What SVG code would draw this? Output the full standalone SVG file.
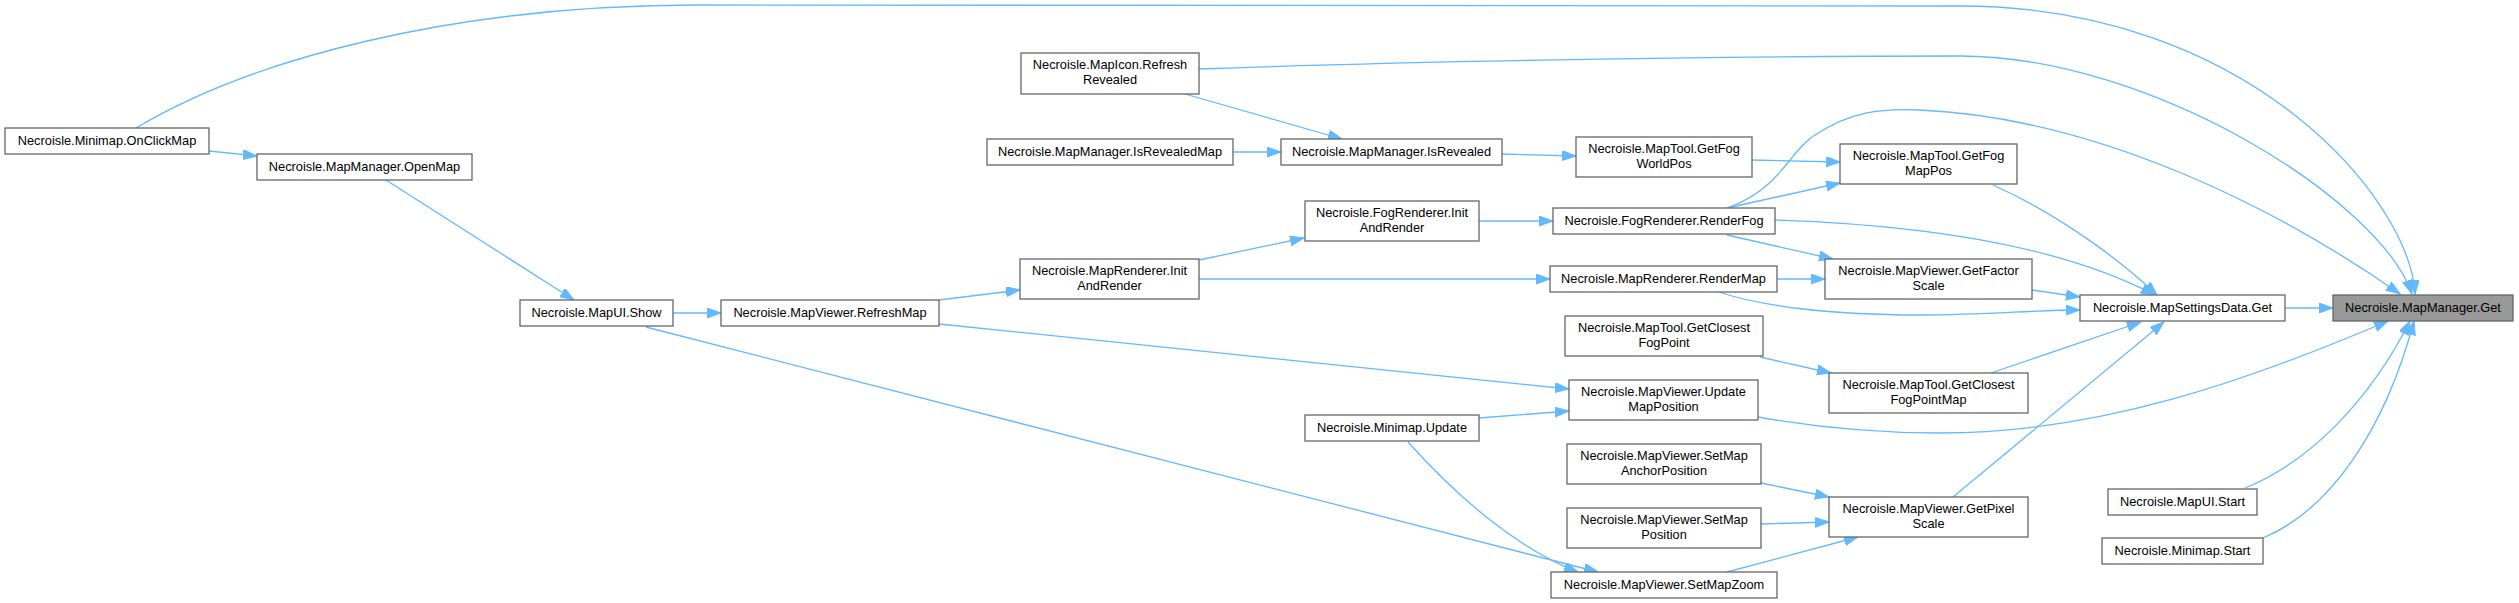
<svg xmlns="http://www.w3.org/2000/svg" width="2519" height="603" viewBox="0 0 2519 603">
<style>
.n rect{fill:#ffffff;stroke:#666666;stroke-width:1.3}
.hl rect{fill:#999999;stroke:#666666;stroke-width:1.3}
text{font-family:"Liberation Sans",Arial,sans-serif;font-size:12.8px;fill:#000000;text-anchor:middle}
.e path{fill:none;stroke:#63b8ff;stroke-width:1.3;marker-end:url(#ah)}
</style>
<defs>
<marker id="ah" markerUnits="userSpaceOnUse" markerWidth="15" markerHeight="11" refX="14" refY="5" orient="auto">
<path d="M0,0 L14,5 L0,10 z" fill="#63b8ff" stroke="#63b8ff" stroke-width="1"/>
</marker>
</defs>
<rect width="2519" height="603" fill="#ffffff"/>
<g id="edges" class="e">
<path d="M136,128 C250,60 450,5 700,5 L1960,6 C2250,6 2410,200 2415,294"/>
<path d="M1199,69 C1400,62 1700,56 1960,56 C2150,56 2380,200 2412,294"/>
<path d="M1727,208 C1780,190 1790,150 1815,135 C1850,112 1880,108 1920,110 C2100,118 2280,210 2400,294"/>
<path d="M1758,417 C1820,428 1880,433 1940,433 C2100,433 2250,380 2388,321"/>
<path d="M2285,308 L2333,308"/>
<path d="M2245,488 C2310,462 2370,400 2410,321"/>
<path d="M2263,538 C2330,510 2385,430 2414,321"/>
<path d="M209,151 L257,156"/>
<path d="M386,180 L574,300"/>
<path d="M673,313 L721,313"/>
<path d="M646,327 L1598,572"/>
<path d="M939,300 L1020,290"/>
<path d="M939,324 L1569,389"/>
<path d="M1199,260 L1304,238"/>
<path d="M1199,279 L1550,279"/>
<path d="M1185,94 L1342,139"/>
<path d="M1233,152 L1281,152"/>
<path d="M1502,154 L1576,156"/>
<path d="M1479,221 L1553,221"/>
<path d="M1752,160 L1840,162"/>
<path d="M1727,208 L1840,183"/>
<path d="M1727,235 L1833,259"/>
<path d="M1775,220 C1900,224 2050,240 2155,295"/>
<path d="M1777,279 L1825,279"/>
<path d="M1719,292 C1760,306 1830,315 1920,315 C1990,315 2030,310 2080,310"/>
<path d="M2032,290 L2080,297"/>
<path d="M1993,185 C2060,215 2120,260 2157,295"/>
<path d="M1760,357 L1831,373"/>
<path d="M1991,373 L2141,322"/>
<path d="M1479,418 L1569,411"/>
<path d="M1408,442 C1460,500 1520,550 1578,572"/>
<path d="M1761,483 L1829,497"/>
<path d="M1761,524 L1829,522"/>
<path d="M1727,572 L1858,537"/>
<path d="M1953,497 L2164,322"/>
</g>
<g id="n_onclickmap" class="n"><rect x="5" y="128" width="204" height="26"/><text x="107" y="145">Necroisle.Minimap.OnClickMap</text></g>
<g id="n_openmap" class="n"><rect x="257" y="154" width="215" height="26"/><text x="364.5" y="171">Necroisle.MapManager.OpenMap</text></g>
<g id="n_mapui_show" class="n"><rect x="520" y="300" width="153" height="26"/><text x="596.5" y="317">Necroisle.MapUI.Show</text></g>
<g id="n_refreshmap" class="n"><rect x="721" y="300" width="218" height="26"/><text x="830" y="317">Necroisle.MapViewer.RefreshMap</text></g>
<g id="n_refreshrevealed" class="n"><rect x="1021" y="53" width="178" height="41"/><text x="1110" y="69">Necroisle.MapIcon.Refresh</text><text x="1110" y="84">Revealed</text></g>
<g id="n_isrevealedmap" class="n"><rect x="987" y="139" width="246" height="26"/><text x="1110" y="156">Necroisle.MapManager.IsRevealedMap</text></g>
<g id="n_maprenderer_init" class="n"><rect x="1020" y="259" width="179" height="40"/><text x="1109.5" y="275">Necroisle.MapRenderer.Init</text><text x="1109.5" y="290">AndRender</text></g>
<g id="n_isrevealed" class="n"><rect x="1281" y="139" width="221" height="26"/><text x="1391.5" y="156">Necroisle.MapManager.IsRevealed</text></g>
<g id="n_fogrenderer_init" class="n"><rect x="1305" y="201" width="174" height="40"/><text x="1392" y="217">Necroisle.FogRenderer.Init</text><text x="1392" y="232">AndRender</text></g>
<g id="n_getfogworldpos" class="n"><rect x="1576" y="137" width="176" height="40"/><text x="1664" y="153">Necroisle.MapTool.GetFog</text><text x="1664" y="168">WorldPos</text></g>
<g id="n_renderfog" class="n"><rect x="1553" y="208" width="222" height="26"/><text x="1664" y="225">Necroisle.FogRenderer.RenderFog</text></g>
<g id="n_rendermap" class="n"><rect x="1550" y="266" width="227" height="26"/><text x="1663.5" y="283">Necroisle.MapRenderer.RenderMap</text></g>
<g id="n_getfogmappos" class="n"><rect x="1840" y="144" width="177" height="40"/><text x="1928.5" y="160">Necroisle.MapTool.GetFog</text><text x="1928.5" y="175">MapPos</text></g>
<g id="n_getfactorscale" class="n"><rect x="1825" y="259" width="207" height="40"/><text x="1928.5" y="275">Necroisle.MapViewer.GetFactor</text><text x="1928.5" y="290">Scale</text></g>
<g id="n_settingsdata_get" class="n"><rect x="2080" y="295" width="205" height="26"/><text x="2182.5" y="312">Necroisle.MapSettingsData.Get</text></g>
<g id="n_mapmanager_get" class="hl"><rect x="2333" y="295" width="180" height="26"/><text x="2423" y="312">Necroisle.MapManager.Get</text></g>
<g id="n_getclosestfogpoint" class="n"><rect x="1565" y="316" width="198" height="40"/><text x="1664" y="332">Necroisle.MapTool.GetClosest</text><text x="1664" y="347">FogPoint</text></g>
<g id="n_getclosestfogpointmap" class="n"><rect x="1829" y="373" width="199" height="40"/><text x="1928.5" y="389">Necroisle.MapTool.GetClosest</text><text x="1928.5" y="404">FogPointMap</text></g>
<g id="n_updatemapposition" class="n"><rect x="1569" y="380" width="189" height="40"/><text x="1663.5" y="396">Necroisle.MapViewer.Update</text><text x="1663.5" y="411">MapPosition</text></g>
<g id="n_minimap_update" class="n"><rect x="1305" y="415" width="174" height="26"/><text x="1392" y="432">Necroisle.Minimap.Update</text></g>
<g id="n_setmapanchorposition" class="n"><rect x="1567" y="444" width="194" height="40"/><text x="1664" y="460">Necroisle.MapViewer.SetMap</text><text x="1664" y="475">AnchorPosition</text></g>
<g id="n_setmapposition" class="n"><rect x="1567" y="508" width="194" height="40"/><text x="1664" y="524">Necroisle.MapViewer.SetMap</text><text x="1664" y="539">Position</text></g>
<g id="n_getpixelscale" class="n"><rect x="1829" y="497" width="199" height="40"/><text x="1928.5" y="513">Necroisle.MapViewer.GetPixel</text><text x="1928.5" y="528">Scale</text></g>
<g id="n_setmapzoom" class="n"><rect x="1551" y="572" width="226" height="26"/><text x="1664" y="589">Necroisle.MapViewer.SetMapZoom</text></g>
<g id="n_mapui_start" class="n"><rect x="2108" y="489" width="149" height="26"/><text x="2182.5" y="506">Necroisle.MapUI.Start</text></g>
<g id="n_minimap_start" class="n"><rect x="2102" y="538" width="161" height="26"/><text x="2182.5" y="555">Necroisle.Minimap.Start</text></g>
</svg>
